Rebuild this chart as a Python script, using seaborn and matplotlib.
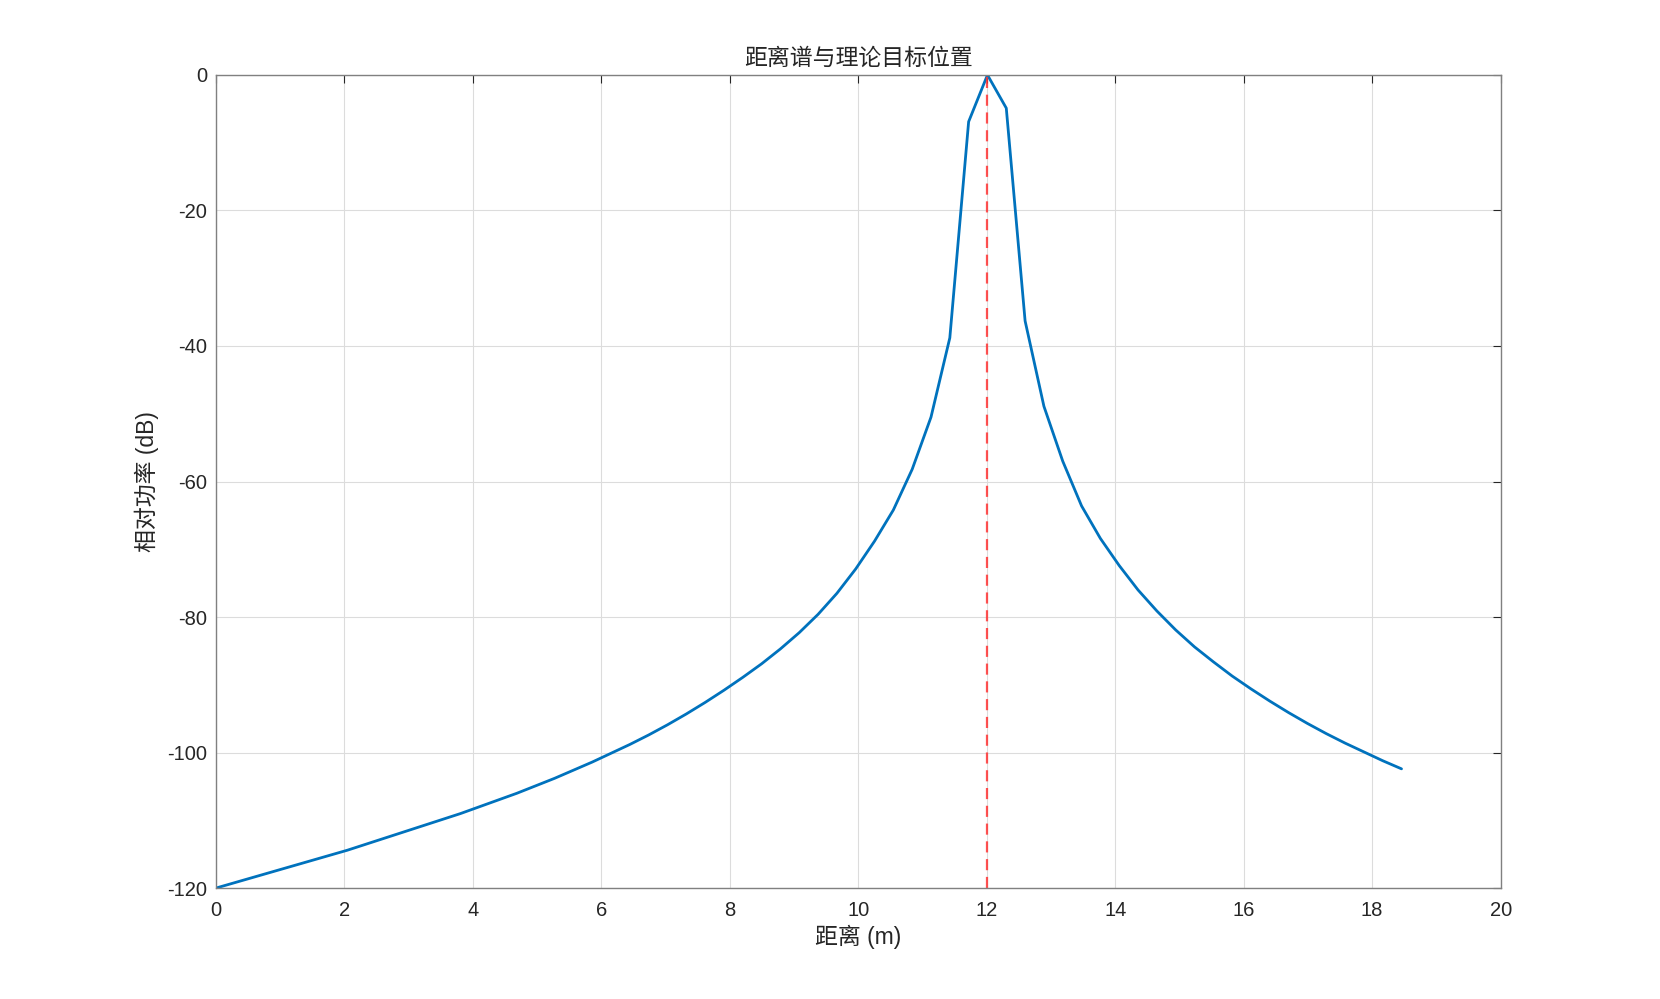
import numpy as np
import pandas as pd
import matplotlib
matplotlib.use('Agg')
import matplotlib.pyplot as plt
import seaborn as sns

# 距离谱数据 (64 个距离单元, 单元间隔约 0.293 m)
bin_step = 0.29297
power_db = [
    -120.0, -119.2, -118.4, -117.6, -116.8, -116.0, -115.2, -114.4,
    -113.5, -112.6, -111.7, -110.8, -109.9, -109.0, -108.0, -107.0,
    -106.0, -104.9, -103.8, -102.6, -101.4, -100.1, -98.8, -97.4,
    -95.9, -94.3, -92.6, -90.8, -88.9, -86.9, -84.7, -82.3,
    -79.6, -76.5, -72.9, -68.8, -64.2, -58.2, -50.5, -38.8,
    -6.9, 0.0, -4.9, -36.3, -48.9, -57.0, -63.6, -68.4,
    -72.4, -76.0, -79.1, -81.9, -84.4, -86.6, -88.7, -90.6,
    -92.4, -94.1, -95.7, -97.2, -98.6, -99.9, -101.2, -102.4,
]
target_range = 12.0

df = pd.DataFrame({'range': np.arange(len(power_db)) * bin_step, 'power': power_db})

sns.set_style('white')
plt.rcParams['font.family'] = ['Liberation Sans', 'Noto Sans CJK SC']
plt.rcParams['axes.unicode_minus'] = False

fig = plt.figure(figsize=(16.6, 9.99), dpi=100)
ax = fig.add_axes([0.13, 0.111, 0.774, 0.814])

sns.lineplot(data=df, x='range', y='power', color='#0072BD', linewidth=2, ax=ax, sort=False)
ax.axvline(target_range, color='#FF3333', alpha=0.85, linestyle=(0, (5, 3)), linewidth=1.6)

ax.set_xlim(0, 20)
ax.set_ylim(-120, 0)
ax.set_xticks(np.arange(0, 21, 2))
ax.set_yticks(np.arange(-120, 1, 20))

ax.grid(True, color='#DCDCDC', linewidth=0.8)
ax.tick_params(direction='in', length=6, width=0.8, colors='#262626',
               labelsize=14.5, top=True, right=True, pad=6)
ax.tick_params(axis='x', pad=9)
for s in ax.spines.values():
    s.set_color('#808080')
    s.set_linewidth(1.0)

ax.set_title('距离谱与理论目标位置', fontsize=16.5, color='#262626', pad=7)
ax.set_xlabel('距离 (m)', fontsize=16.5, color='#262626', labelpad=4)
ax.set_ylabel('相对功率 (dB)', fontsize=16.5, color='#262626', labelpad=6)

fig.savefig('out.png', dpi=100, facecolor='white')
